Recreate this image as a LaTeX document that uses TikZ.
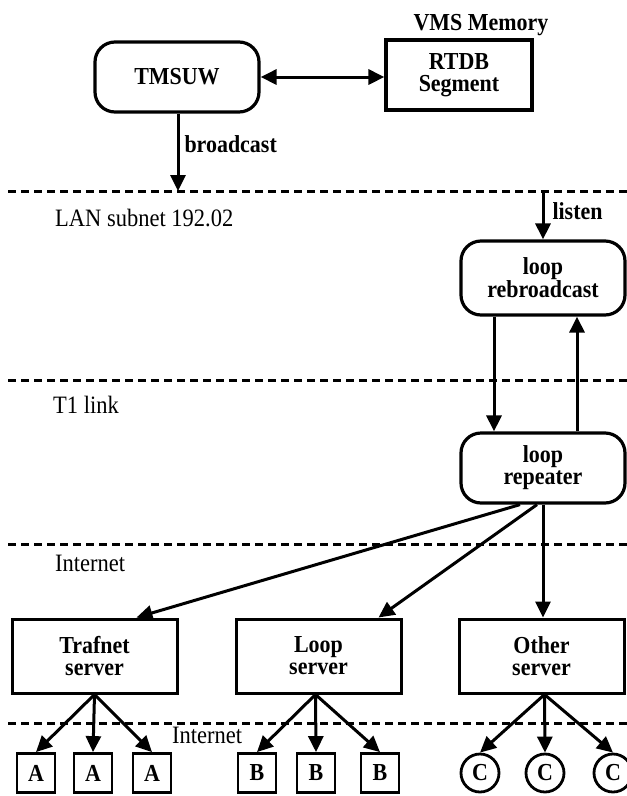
\documentclass[tikz,border=0pt]{standalone}
\usepackage{fontspec}
\setmainfont[FakeStretch=0.9]{Liberation Serif}
\usetikzlibrary{arrows.meta}

\begin{document}
\begin{tikzpicture}[x=1pt,y=-1pt,
  lbl/.style={font=\fontsize{24.4}{22}\selectfont\bfseries, align=center},
  proc/.style={lbl, draw, line width=3.2pt, rounded corners=20pt, minimum width=164pt, minimum height=70pt},
  store/.style={lbl, draw, line width=3.2pt, minimum width=146pt, minimum height=70pt},
  srv/.style={lbl, draw, line width=3pt, minimum width=165pt, minimum height=74pt},
  leaf/.style={lbl, draw, line width=2.8pt, minimum width=38pt, minimum height=39pt, inner sep=0pt},
  leafc/.style={lbl, draw, circle, line width=2.8pt, minimum size=38pt, inner sep=0pt},
  net/.style={line width=3pt, dash pattern=on 8pt off 5pt},
  layer/.style={font=\fontsize{25}{22}\selectfont, anchor=base west, inner sep=0pt},
  link/.style={line width=3pt, -{Triangle[length=16pt,width=15pt]}},
  dbl/.style={line width=3pt, {Triangle[length=16pt,width=15pt]}-{Triangle[length=16pt,width=15pt]}}]

\useasboundingbox (0,0) rectangle (627,796);


% network layers
\draw[net] (8,191) -- (627,191);
\draw[net] (8,380) -- (627,380);
\draw[net] (8,544) -- (627,544);
\draw[net] (8,723) -- (627,723);

\node[layer] (lan) at (55,226) {LAN subnet 192.02};
\node[layer] (t1) at (53,413) {T1 link};
\node[layer] (inet1) at (55,571) {Internet};
\node[layer] (inet2) at (172,743) {Internet};

\coordinate (bc) at (178,191);
\coordinate (ls) at (543,191);



\node[proc] (tms) at (177,77) {TMSUW};
\node[store] (rtdb) at (459,75) {RTDB\\Segment};
\node[lbl, anchor=base] (vms) at (481,30) {VMS Memory};

\node[proc, minimum height=74pt] (rbc) at (543,278) {loop\\rebroadcast};
\node[proc] (rep) at (543,468) {loop\\repeater};


\node[srv] (traf) at (94.5,656) {Trafnet\\server};
\node[srv] (lsrv) at (318.5,656) {Loop\\server};
\node[srv] (osrv) at (541.5,656) {Other\\server};


\node[leaf] (a1) at (36,773) {A};
\node[leaf] (a2) at (93,773) {A};
\node[leaf] (a3) at (152,773) {A};

\node[leaf] (b1) at (257,773) {B};
\node[leaf] (b2) at (316,773) {B};
\node[leaf] (b3) at (380,773) {B};

\node[leafc] (c1) at (480,773) {C};
\node[leafc] (c2) at (545,773) {C};
\node[leafc] (c3) at (613,773) {C};



\draw[dbl] (tms.east) -- (tms.east -| rtdb.west);
\draw[link] (tms.south -| bc) -- (bc) node[pos=0.39, right, lbl, inner sep=5pt] {broadcast};
\draw[link] (ls) -- (rbc.north) node[pos=0.42, right, lbl, inner sep=8pt] {listen};

\draw[link] ([xshift=-49pt]rbc.south) -- ([xshift=-49pt]rep.north);
\draw[link] ([xshift=34pt]rep.north) -- ([xshift=34pt]rbc.south);

\draw[link] ([xshift=-23pt]rep.south) -- ([xshift=42pt]traf.north);
\draw[link] ([xshift=-6pt]rep.south) -- ([xshift=60pt]lsrv.north);
\draw[link] (rep.south) -- (rep.south |- osrv.north);


\draw[link] (traf.south) -- (a1.north);
\draw[link] (traf.south) -- (a2.north);
\draw[link] (traf.south) -- (a3.north);

\draw[link] ([xshift=-3pt]lsrv.south) -- (b1.north);
\draw[link] ([xshift=-3pt]lsrv.south) -- (b2.north);
\draw[link] ([xshift=-3pt]lsrv.south) -- (b3.north);

\draw[link] ([xshift=3pt]osrv.south) -- (c1.north);
\draw[link] ([xshift=3pt]osrv.south) -- (c2.north);
\draw[link] ([xshift=3pt]osrv.south) -- (c3.north);

\end{tikzpicture}
\end{document}
